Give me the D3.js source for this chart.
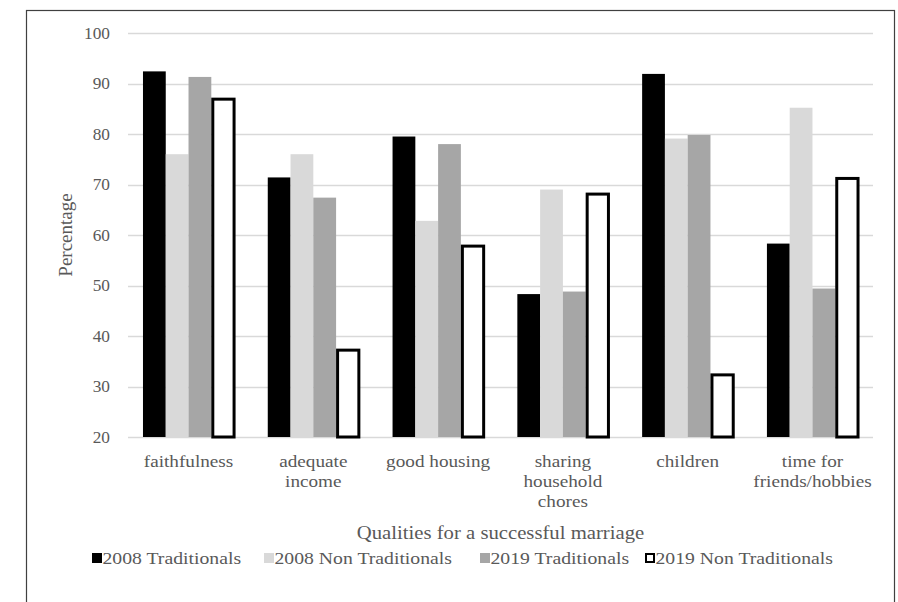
<!DOCTYPE html>
<html>
<head>
<meta charset="utf-8">
<script src="https://cdn.jsdelivr.net/npm/d3@7"></script>
<style>
  html, body { margin: 0; padding: 0; background: #fff; }
  svg { display: block; }
</style>
</head>
<body>
<svg id="chart" width="898" height="602" font-family="'Liberation Serif', 'Times New Roman', Times, 'DejaVu Serif', serif"></svg>
<script>
const categories = [
  ["faithfulness"],
  ["adequate", "income"],
  ["good housing"],
  ["sharing", "household", "chores"],
  ["children"],
  ["time for", "friends/hobbies"]
];
const seriesNames = ["2008 Traditionals", "2008 Non Traditionals", "2019 Traditionals", "2019 Non Traditionals"];
const trad2008    = [92.4, 71.4, 79.5, 48.3, 91.9, 58.3];
const nonTrad2008 = [76.0, 76.0, 62.8, 69.0, 79.1, 85.2];
const trad2019    = [91.3, 67.4, 78.0, 48.8, 79.8, 49.4];
const nonTrad2019 = [86.9, 37.2, 57.8, 68.1, 32.3, 71.2];
const yTicks = [20, 30, 40, 50, 60, 70, 80, 90, 100];
const fills   = ["#000000", "#d9d9d9", "#a6a6a6", "#ffffff"];
const strokes = ["none", "none", "none", "#000000"];

const seriesValues = [trad2008, nonTrad2008, trad2019, nonTrad2019];
const catKeys = categories.map(c => c.join(" "));
const textColor = "#595959";

const svg = d3.select("#chart");
const plotLeft = 128, plotRight = 873, plotTop = 33, plotBottom = 437;

// outer border
svg.append("rect").attr("x", 26.5).attr("y", 10.5).attr("width", 868).attr("height", 620)
  .attr("fill", "none").attr("stroke", "#404040").attr("stroke-width", 1.2);

const y = d3.scaleLinear().domain([20, 100]).range([plotBottom, plotTop]);
const x0 = d3.scaleBand().domain(catKeys).range([plotLeft, plotRight]).paddingInner(0.27).paddingOuter(0.12);
const x1 = d3.scaleBand().domain(d3.range(seriesNames.length)).range([0, x0.bandwidth()]).padding(0);

// gridlines
svg.append("g").selectAll("line").data(yTicks).join("line")
  .attr("x1", plotLeft).attr("x2", plotRight)
  .attr("y1", d => Math.round(y(d)) + 0.5).attr("y2", d => Math.round(y(d)) + 0.5)
  .attr("stroke", "#d9d9d9").attr("stroke-width", 1.3);

// y tick labels
svg.append("g").selectAll("text").data(yTicks).join("text")
  .attr("transform", d => `translate(110,${y(d)}) scale(1.05,1)`)
  .attr("dy", "0.35em")
  .attr("fill", textColor)
  .attr("text-anchor", "end").attr("font-size", 16.5).text(d => d);

// bars
const groups = svg.append("g").selectAll("g").data(catKeys).join("g")
  .attr("transform", d => `translate(${x0(d)},0)`);
groups.selectAll("rect").data((d, i) => seriesValues.map((s, j) => ({ j, v: s[i] }))).join("rect")
  .attr("x", d => x1(d.j) + (d.j === 3 ? 1.5 : 0))
  .attr("width", d => x1.bandwidth() - (d.j === 3 ? 1.5 : 0))
  .attr("y", d => y(d.v))
  .attr("height", d => y(20) - y(d.v))
  .attr("fill", d => fills[d.j])
  .attr("stroke", d => strokes[d.j])
  .attr("stroke-width", 3);

// category labels
const catLabels = svg.append("g").selectAll("text").data(categories).join("text")
  .attr("transform", (d, i) => `translate(${x0(catKeys[i]) + x0.bandwidth() / 2},467) scale(1.13,1)`)
  .attr("fill", textColor)
  .attr("text-anchor", "middle").attr("font-size", 17);
catLabels.selectAll("tspan").data(d => d).join("tspan")
  .attr("x", 0)
  .attr("dy", (d, i) => i === 0 ? 0 : 20)
  .text(d => d);

// axis titles
svg.append("text").attr("transform", `translate(${(plotLeft + plotRight) / 2},539) scale(1.12,1)`)
  .attr("fill", textColor)
  .attr("text-anchor", "middle").attr("font-size", 18.5).text("Qualities for a successful marriage");
svg.append("text").attr("transform", `translate(72,${(plotTop + plotBottom) / 2}) rotate(-90)`)
  .attr("fill", textColor)
  .attr("text-anchor", "middle").attr("font-size", 19).text("Percentage");

// legend
const legendX = [92, 264, 480, 645];
const leg = svg.append("g").selectAll("g").data(seriesNames).join("g")
  .attr("transform", (d, i) => `translate(${legendX[i]},558)`);
leg.append("rect")
  .attr("x", (d, i) => i === 3 ? 1 : 0).attr("y", (d, i) => i === 3 ? -4 : -5)
  .attr("width", (d, i) => i === 3 ? 8 : 10).attr("height", (d, i) => i === 3 ? 8 : 10)
  .attr("fill", (d, i) => fills[i]).attr("stroke", (d, i) => strokes[i]).attr("stroke-width", 2);
leg.append("text").attr("transform", "translate(10.5,0) scale(1.16,1)").attr("dy", "0.35em")
  .attr("fill", textColor)
  .attr("font-size", 17).text(d => d);
</script>
</body>
</html>
